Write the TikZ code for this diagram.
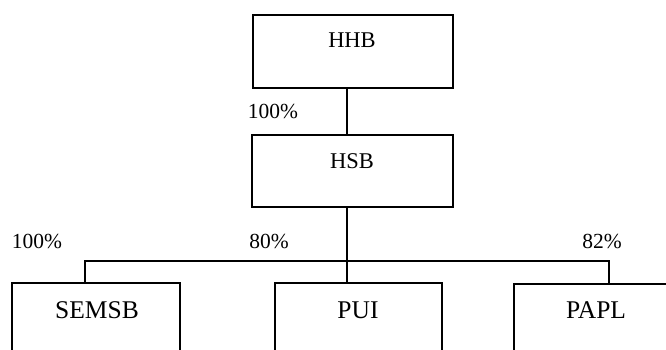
\documentclass[tikz,border=0pt]{standalone}
\usepackage{fontspec}
\setmainfont{Liberation Serif}
\begin{document}
\begin{tikzpicture}[x=1pt,y=-1pt,
  box/.style={draw, line width=1.6pt, rectangle, inner sep=0pt},
  link/.style={line width=1.3pt},
  toplbl/.style={anchor=base, inner sep=0pt, font=\fontsize{22.5}{26}\selectfont},
  botlbl/.style={anchor=base, inner sep=0pt, font=\fontsize{25.5}{30}\selectfont},
  pct/.style={anchor=base, inner sep=0pt, font=\fontsize{21.5}{25}\selectfont}]
\clip (0,0) rectangle (666,350);
% boxes
\node[box, minimum width=200pt, minimum height=73pt] (HHB) at (353,51.5) {};
\node[box, minimum width=201pt, minimum height=72pt] (HSB) at (352.5,171) {};
\node[box, minimum width=168pt, minimum height=120pt] (SEMSB) at (96,343) {};
\node[box, minimum width=167pt, minimum height=120pt] (PUI) at (358.5,343) {};
\node[box, minimum width=190pt, minimum height=120pt] (PAPL) at (609,344) {};
% labels
\node[toplbl] (tHHB) at (352,48) {HHB};
\node[toplbl] (tHSB) at (352,168) {HSB};
\node[botlbl] (tSEMSB) at (97,318) {SEMSB};
\node[botlbl] (tPUI) at (358,318) {PUI};
\node[botlbl] (tPAPL) at (596,318) {PAPL};
\node[pct] (p1) at (273,118) {100\%};
\node[pct] (p2) at (37,248) {100\%};
\node[pct] (p3) at (269,248) {80\%};
\node[pct] (p4) at (602,248) {82\%};
% connectors
\coordinate (bus) at (347,261);
\coordinate (busL) at (85,261);
\coordinate (busR) at (609,261);
\draw[link] (HHB.south -| bus) -- (HSB.north -| bus);
\draw[link] (HSB.south -| bus) -- (PUI.north -| bus);
\draw[link] (SEMSB.north -| busL) -- (busL) -- (busR) -- (PAPL.north -| busR);
\end{tikzpicture}
\end{document}
